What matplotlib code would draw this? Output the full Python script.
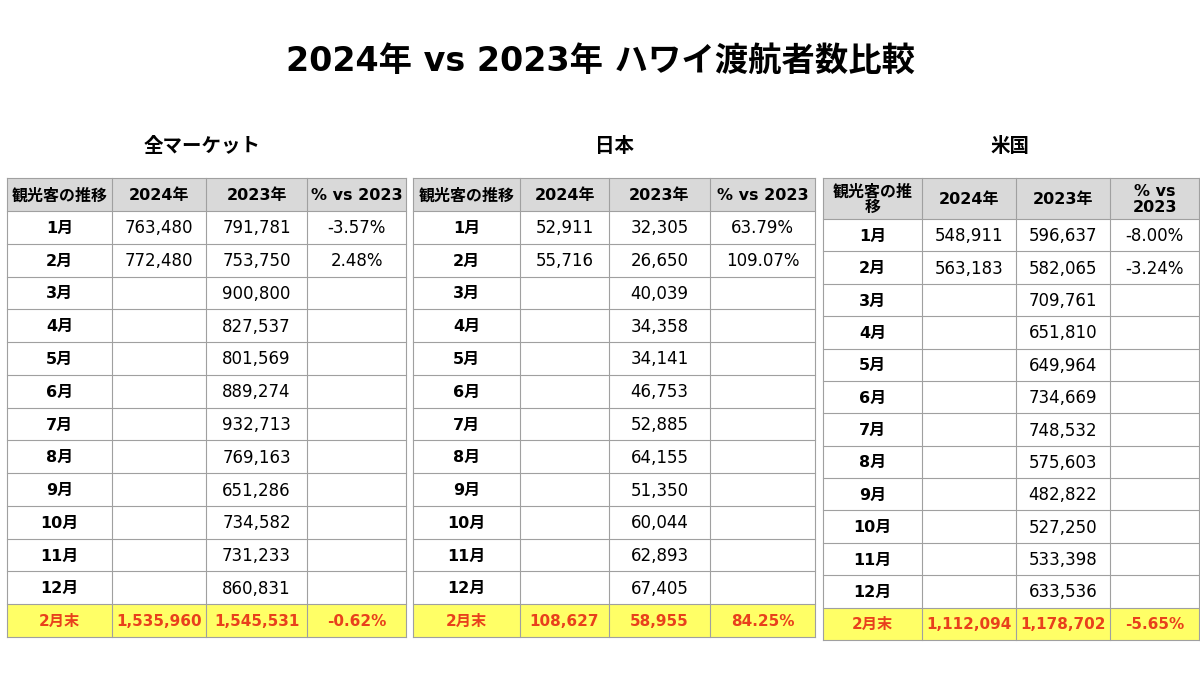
import matplotlib
matplotlib.use("Agg")
import matplotlib.pyplot as plt
from matplotlib.patches import Rectangle

plt.rcParams['font.family'] = ['DejaVu Sans', 'Noto Sans CJK JP']

title = "2024年 vs 2023年 ハワイ渡航者数比較"
months = ["1月", "2月", "3月", "4月", "5月", "6月", "7月", "8月", "9月", "10月", "11月", "12月"]
total_label = "2月末"

market_names = ["全マーケット", "日本", "米国"]
headers = [
    ["観光客の推移", "2024年", "2023年", "% vs 2023"],
    ["観光客の推移", "2024年", "2023年", "% vs 2023"],
    ["観光客の推\n移", "2024年", "2023年", "% vs\n2023"],
]

all_2024 = ["763,480", "772,480"]
all_2023 = ["791,781", "753,750", "900,800", "827,537", "801,569", "889,274",
            "932,713", "769,163", "651,286", "734,582", "731,233", "860,831"]
all_pct = ["-3.57%", "2.48%"]
all_total = ["1,535,960", "1,545,531", "-0.62%"]

jp_2024 = ["52,911", "55,716"]
jp_2023 = ["32,305", "26,650", "40,039", "34,358", "34,141", "46,753",
           "52,885", "64,155", "51,350", "60,044", "62,893", "67,405"]
jp_pct = ["63.79%", "109.07%"]
jp_total = ["108,627", "58,955", "84.25%"]

us_2024 = ["548,911", "563,183"]
us_2023 = ["596,637", "582,065", "709,761", "651,810", "649,964", "734,669",
           "748,532", "575,603", "482,822", "527,250", "533,398", "633,536"]
us_pct = ["-8.00%", "-3.24%"]
us_total = ["1,112,094", "1,178,702", "-5.65%"]

data = [
    (all_2024, all_2023, all_pct, all_total),
    (jp_2024, jp_2023, jp_pct, jp_total),
    (us_2024, us_2023, us_pct, us_total),
]

# layout (pixel coordinates)
col_edges = [
    [7, 112, 206, 307, 406],
    [413, 520, 609, 710, 815],
    [823, 922, 1016, 1110, 1199],
]
header_top = [178, 178, 178]
header_bot = [211, 211, 219]
table_bot = [637, 637, 640]
subtitle_x = [202, 614, 1010]

HEADER_BG = "#d9d9d9"
TOTAL_BG = "#ffff66"
RED = "#e8401c"
GRID = "#a0a0a0"

FS_NUM = 12
FS_HEAD = 11.5
FS_MONTH = 11.5
FS_TOT = 11

fig = plt.figure(figsize=(12, 6.74), dpi=100)
ax = fig.add_axes([0, 0, 1, 1])
ax.set_xlim(0, 1200)
ax.set_ylim(674, 0)
ax.axis("off")

ax.text(600, 61, title, ha="center", va="center", fontsize=24, fontweight="bold")

for t in range(3):
    edges = col_edges[t]
    y0, y1, yb = header_top[t], header_bot[t], table_bot[t]
    n_rows = 13
    rh = (yb - y1) / n_rows
    row_edges = [y1 + i * rh for i in range(n_rows + 1)]
    ax.text(subtitle_x[t], 147, market_names[t], ha="center", va="center",
            fontsize=14, fontweight="bold")
    ax.add_patch(Rectangle((edges[0], y0), edges[-1] - edges[0], y1 - y0,
                           facecolor=HEADER_BG, edgecolor="none"))
    ax.add_patch(Rectangle((edges[0], row_edges[-2]), edges[-1] - edges[0], rh,
                           facecolor=TOTAL_BG, edgecolor="none"))
    for c in range(4):
        cx = (edges[c] + edges[c + 1]) / 2
        ax.text(cx, (y0 + y1) / 2 + 1, headers[t][c], ha="center", va="center",
                fontsize=FS_HEAD, fontweight="bold", linespacing=1.0)
    v24, v23, pct, tot = data[t]
    for r in range(12):
        cy = (row_edges[r] + row_edges[r + 1]) / 2 + 1
        ax.text((edges[0] + edges[1]) / 2, cy, months[r], ha="center", va="center",
                fontsize=FS_MONTH, fontweight="bold")
        if r < len(v24):
            ax.text((edges[1] + edges[2]) / 2, cy, v24[r], ha="center", va="center", fontsize=FS_NUM)
        ax.text((edges[2] + edges[3]) / 2, cy, v23[r], ha="center", va="center", fontsize=FS_NUM)
        if r < len(pct):
            ax.text((edges[3] + edges[4]) / 2, cy, pct[r], ha="center", va="center", fontsize=FS_NUM)
    cy = (row_edges[-2] + row_edges[-1]) / 2 + 1
    ax.text((edges[0] + edges[1]) / 2, cy, total_label, ha="center", va="center",
            fontsize=FS_TOT, fontweight="bold", color=RED)
    for c in range(3):
        ax.text((edges[c + 1] + edges[c + 2]) / 2, cy, tot[c], ha="center", va="center",
                fontsize=FS_TOT, fontweight="bold", color=RED)
    for y in [y0] + row_edges:
        ax.plot([edges[0], edges[-1]], [y, y], color=GRID, lw=0.8)
    for x in edges:
        ax.plot([x, x], [y0, yb], color=GRID, lw=0.8)

fig.savefig("out.png", dpi=100)
